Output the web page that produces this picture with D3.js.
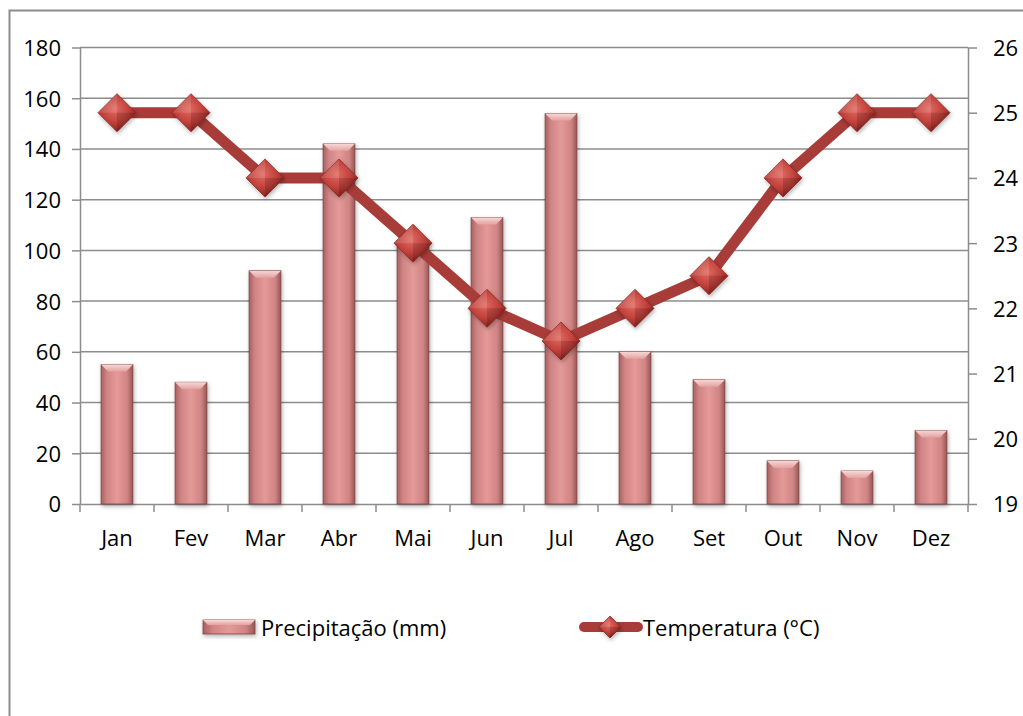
<!DOCTYPE html>
<html>
<head>
<meta charset="utf-8">
<script src="https://cdn.jsdelivr.net/npm/d3@7"></script>
<style>
  body { margin: 0; background: #fff; }
  svg { display: block; font-family: "Open Sans", "Noto Sans", sans-serif; }
</style>
</head>
<body>
<svg id="chart"></svg>
<script>
const months = ["Jan","Fev","Mar","Abr","Mai","Jun","Jul","Ago","Set","Out","Nov","Dez"]
const precip = [55, 48, 92, 142, 104, 113, 154, 60, 49, 17, 13, 29]
const temp = [25, 25, 24, 24, 23, 22, 21.5, 22, 22.5, 24, 25, 25]
const leftTicks = [0, 20, 40, 60, 80, 100, 120, 140, 160, 180]
const rightTicks = [19, 20, 21, 22, 23, 24, 25, 26]

let width = 1023
let height = 716
let plotLeft = 80, plotRight = 968, plotTop = 47.5, plotBottom = 504

let svg = d3.select('#chart').attr('width', width).attr('height', height)

let defs = svg.append('defs')

let barGrad = defs.append('linearGradient').attr('id', 'barGrad')
    .attr('x1', '0%').attr('x2', '100%').attr('y1', '0%').attr('y2', '0%')
barGrad.append('stop').attr('offset', '0%').attr('stop-color', '#a86060')
barGrad.append('stop').attr('offset', '18%').attr('stop-color', '#d08484')
barGrad.append('stop').attr('offset', '50%').attr('stop-color', '#e39a98')
barGrad.append('stop').attr('offset', '82%').attr('stop-color', '#d08484')
barGrad.append('stop').attr('offset', '100%').attr('stop-color', '#9a5656')

let capGrad = defs.append('linearGradient').attr('id', 'capGrad')
    .attr('x1', '0%').attr('x2', '0%').attr('y1', '0%').attr('y2', '100%')
capGrad.append('stop').attr('offset', '0%').attr('stop-color', '#f7d8d6')
capGrad.append('stop').attr('offset', '100%').attr('stop-color', '#e3a2a0')

let diaGrad = defs.append('radialGradient').attr('id', 'diaGrad')
    .attr('cx', '45%').attr('cy', '40%').attr('r', '60%')
diaGrad.append('stop').attr('offset', '0%').attr('stop-color', '#e06a62')
diaGrad.append('stop').attr('offset', '60%').attr('stop-color', '#c0403a')
diaGrad.append('stop').attr('offset', '100%').attr('stop-color', '#8a2422')

let shadow = defs.append('filter').attr('id', 'shadow')
    .attr('x', '-30%').attr('y', '-30%').attr('width', '160%').attr('height', '160%')
shadow.append('feDropShadow').attr('dx', 1).attr('dy', 2).attr('stdDeviation', 2)
    .attr('flood-color', '#000').attr('flood-opacity', 0.3)

// outer border
svg.append('path')
   .attr('d', `M9.5,${height} V10.5 H${width}`)
   .attr('fill', 'none').attr('stroke', '#8c8c8c').attr('stroke-width', 2)

let xScale = d3.scaleBand().domain(months).range([plotLeft, plotRight])
let yScale = d3.scaleLinear().domain([0, 180]).range([plotBottom, plotTop])
let yScale2 = d3.scaleLinear().domain([19, 26]).range([plotBottom, plotTop])

// gridlines
svg.append('g').selectAll('line')
   .data(leftTicks.filter(d => d > 0))
   .enter().append('line')
   .attr('x1', plotLeft).attr('x2', plotRight)
   .attr('y1', d => yScale(d)).attr('y2', d => yScale(d))
   .attr('stroke', '#8c8c8c').attr('stroke-width', 1.5)

let styleAxis = (g) => {
    g.select('.domain').attr('stroke', '#8c8c8c').attr('stroke-width', 1.5)
    g.selectAll('.tick line').attr('stroke', '#8c8c8c').attr('stroke-width', 1.5)
    g.selectAll('text').attr('fill', '#000').style('font-size', '22px')
       .style('font-family', '"Open Sans", sans-serif')
}

let yAxis = d3.axisLeft(yScale).tickValues(leftTicks).tickSize(8).tickSizeOuter(0).tickPadding(11)
svg.append('g').attr('transform', `translate(${plotLeft},0)`).call(yAxis).call(styleAxis)
   .selectAll('text').attr('dy', '0.36em')

let yAxis2 = d3.axisRight(yScale2).tickValues(rightTicks).tickFormat(d3.format('d'))
   .tickSize(9).tickSizeOuter(0)
svg.append('g').attr('transform', `translate(${plotRight},0)`).call(yAxis2).call(styleAxis)
   .selectAll('text').attr('x', 25).attr('dy', '0.36em')

let xAxis = d3.axisBottom(xScale).tickSize(0).tickSizeOuter(0)
let xg = svg.append('g').attr('transform', `translate(0,${plotBottom})`).call(xAxis).call(styleAxis)
xg.selectAll('text').attr('y', 42).attr('dy', 0)
// ticks between categories
xg.selectAll('.sep').data(d3.range(13)).enter().append('line')
  .attr('x1', i => plotLeft + i * xScale.step()).attr('x2', i => plotLeft + i * xScale.step())
  .attr('y1', 0).attr('y2', 8)
  .attr('stroke', '#8c8c8c').attr('stroke-width', 1.5)

// bars
let bw = xScale.bandwidth() * 0.43
let bars = svg.append('g').selectAll('g')
   .data(precip).enter().append('g')
   .attr('filter', 'url(#shadow)')
bars.append('rect')
   .attr('x', (d, i) => xScale(months[i]) + xScale.bandwidth() / 2 - bw / 2)
   .attr('y', d => yScale(d))
   .attr('width', bw)
   .attr('height', d => plotBottom - yScale(d))
   .attr('fill', 'url(#barGrad)')
   .attr('stroke', '#7a4444').attr('stroke-width', 0.8)
bars.append('path')
   .attr('d', (d, i) => {
       let x0 = xScale(months[i]) + xScale.bandwidth() / 2 - bw / 2
       let y0 = yScale(d)
       return `M${x0},${y0} H${x0 + bw} L${x0 + bw - 7},${y0 + 7} H${x0 + 7} Z`
   })
   .attr('fill', 'url(#capGrad)')

// temperature line
let line = d3.line()
   .x((d, i) => xScale(months[i]) + xScale.bandwidth() / 2)
   .y(d => yScale2(d))
svg.append('path').datum(temp)
   .attr('d', line)
   .attr('fill', 'none').attr('stroke', '#a83c38').attr('stroke-width', 11)
   .attr('stroke-linejoin', 'round')

let diamond = (cx, cy, r) => `M${cx - r},${cy} L${cx},${cy - r} L${cx + r},${cy} L${cx},${cy + r} Z`
let drawMarker = (g, cx, cy, r) => {
    let m = g.append('g').attr('filter', 'url(#shadow)')
    m.append('path').attr('d', diamond(cx, cy, r)).attr('fill', 'url(#diaGrad)')
     .attr('stroke', '#8a2a26').attr('stroke-width', 0.8)
    // facets
    m.append('path').attr('d', `M${cx - r},${cy} L${cx},${cy - r} L${cx},${cy} Z`)
     .attr('fill', '#fff').attr('opacity', 0.12)
    m.append('path').attr('d', `M${cx},${cy} L${cx + r},${cy} L${cx},${cy + r} Z`)
     .attr('fill', '#000').attr('opacity', 0.15)
}
let markers = svg.append('g')
temp.forEach((d, i) => {
    drawMarker(markers, xScale(months[i]) + xScale.bandwidth() / 2, yScale2(d), 19)
})

// legend
let leg = svg.append('g').style('font-size', '22px')
let lg1 = leg.append('g').attr('filter', 'url(#shadow)')
lg1.append('rect').attr('x', 203).attr('y', 620).attr('width', 52).attr('height', 14)
   .attr('fill', 'url(#barGrad)').attr('stroke', '#7a4444').attr('stroke-width', 0.8)
lg1.append('path').attr('d', 'M203,620 H255 L250,625 H208 Z').attr('fill', 'url(#capGrad)')
leg.append('text').attr('x', 261).attr('y', 636).text('Precipitação (mm)')

leg.append('line').attr('x1', 584).attr('x2', 638).attr('y1', 627).attr('y2', 627)
   .attr('stroke', '#a83c38').attr('stroke-width', 10).attr('stroke-linecap', 'round')
drawMarker(leg, 610, 627, 11)
leg.append('text').attr('x', 643).attr('y', 636).text('Temperatura (°C)')
</script>
</body>
</html>
